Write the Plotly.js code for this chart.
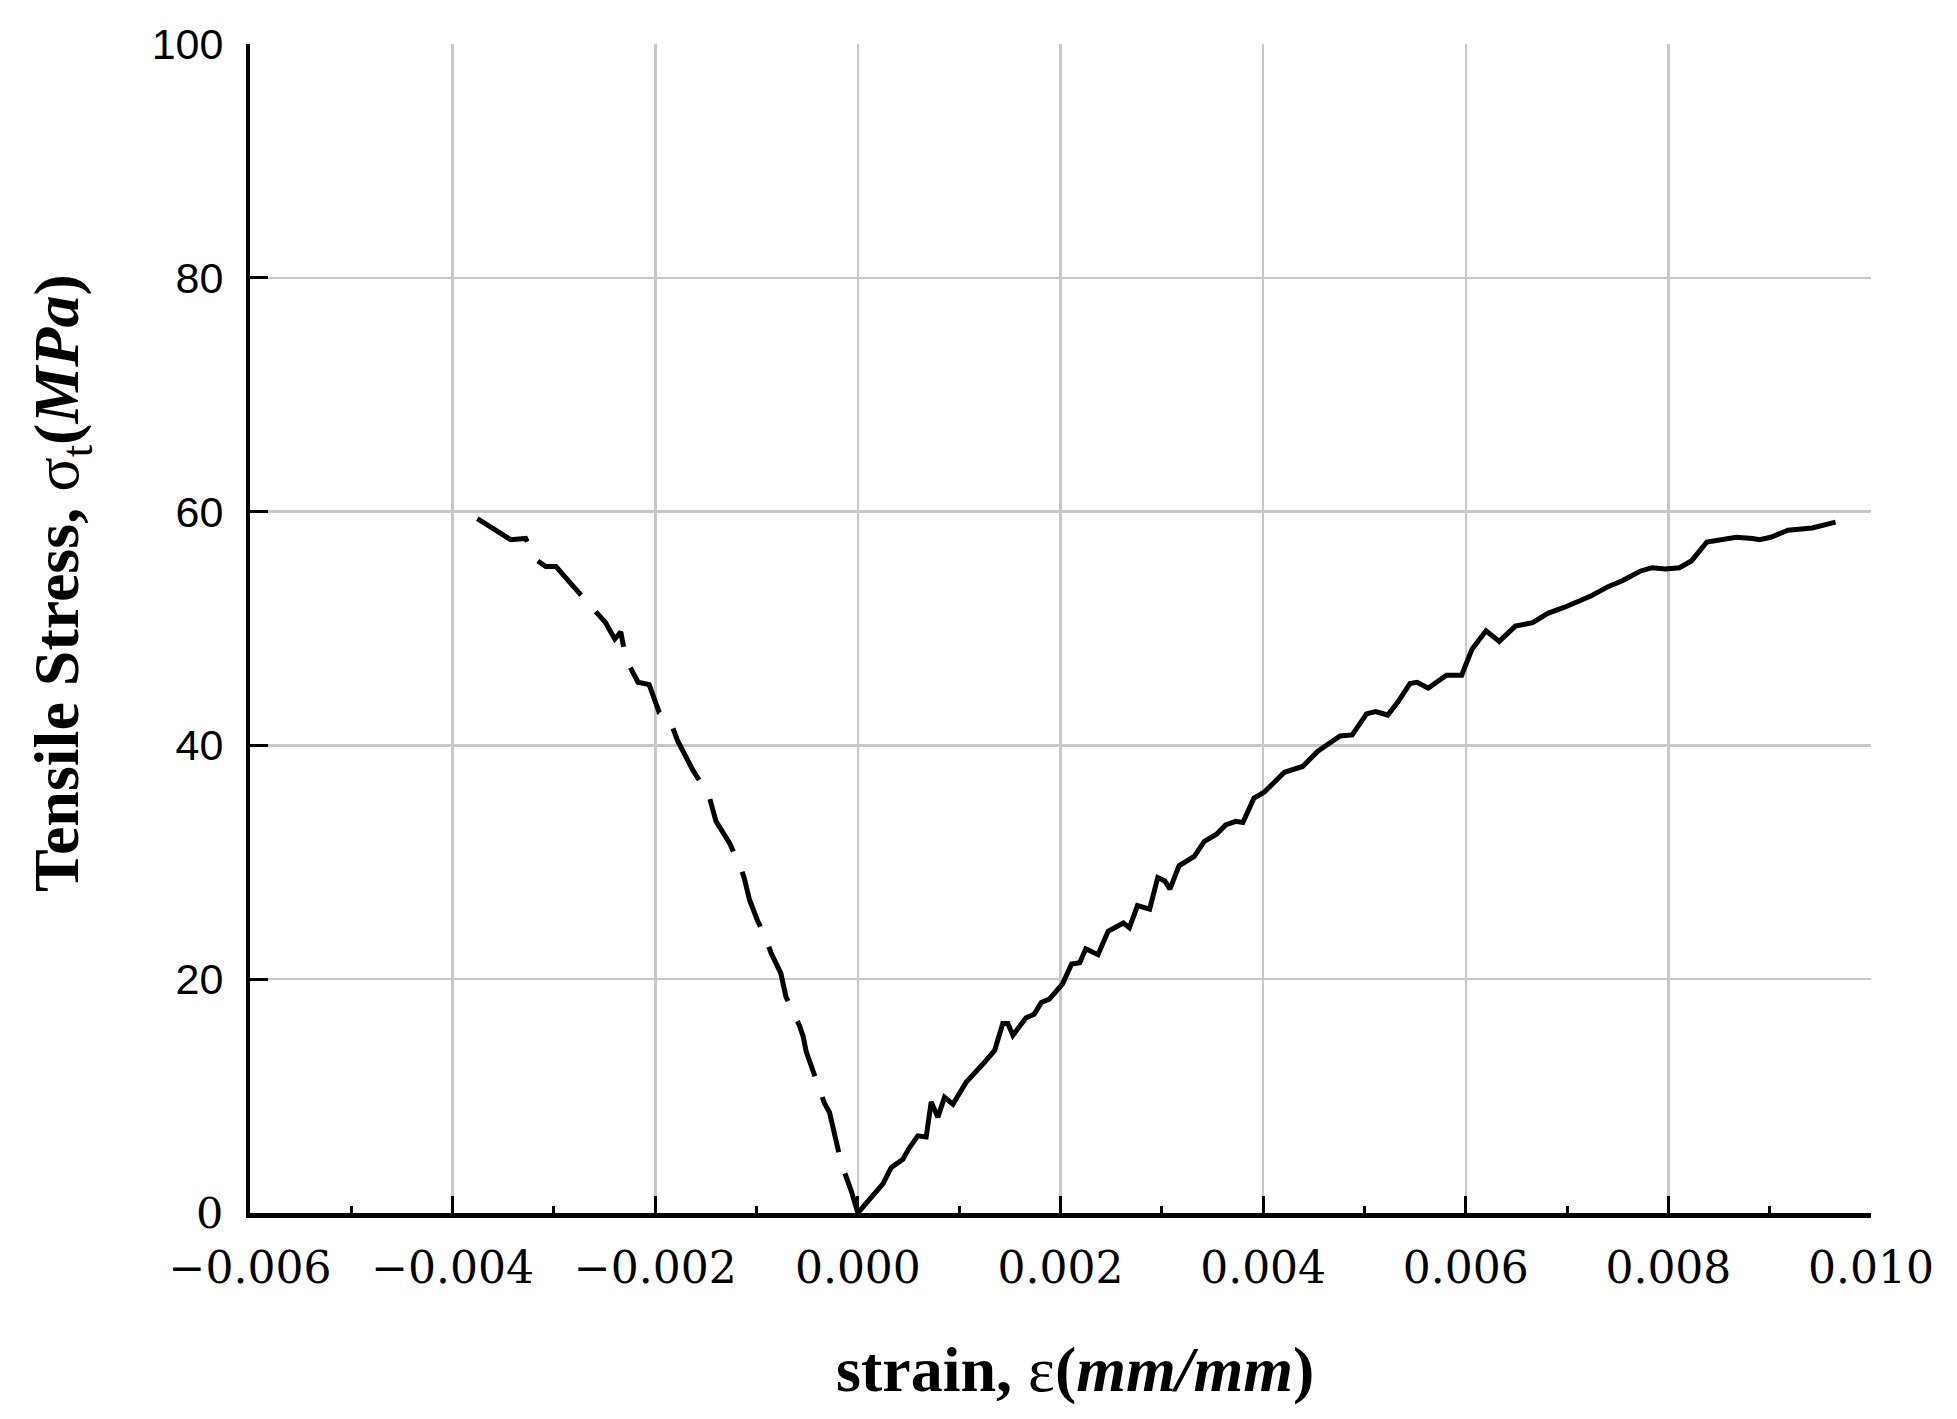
<!DOCTYPE html>
<html>
<head>
<meta charset="utf-8">
<script src="https://cdn.plot.ly/plotly-3.0.1.min.js"></script>
<style>html,body{margin:0;padding:0;background:#fff;}</style>
</head>
<body>
<div id="chart" style="width:1957px;height:1419px;"></div>
<script>
// Compression branch (dashed)
const compStrain = [-0.003756, -0.003608, -0.003427, -0.003279, -0.003163, -0.00308, -0.00298, -0.00288, -0.00267,
  -0.00249, -0.00240, -0.00234, -0.00229, -0.00217, -0.00206, -0.00196, -0.00186, -0.00178, -0.00163, -0.00147,
  -0.00140, -0.00127, -0.00115, -0.00112, -0.00107, -0.00099, -0.00091, -0.00086, -0.00076, -0.00071, -0.00058,
  -0.00054, -0.00051, -0.00033, -0.00028, -0.00021, -0.000165, -0.000066, 0];
const compStress = [59.4, 58.6, 57.6, 57.7, 55.8, 55.3, 55.3, 54.3, 52.2,
  50.5, 49.1, 49.7, 47.4, 45.4, 45.2, 42.8, 42.3, 40.4, 37.9, 35.7,
  33.5, 31.7, 29.4, 28.6, 26.8, 25.0, 23.6, 22.3, 20.5, 18.5, 16.1,
  15.1, 13.8, 9.4, 8.6, 6.2, 4.3, 1.9, 0];

// Tension branch (solid)
const tensStrain = [0, 0.000115, 0.000247, 0.00033, 0.000444, 0.00051, 0.000592, 0.000674, 0.000724, 0.00079,
  0.000855, 0.000938, 0.00107, 0.00123, 0.00135, 0.00143, 0.00148, 0.00153, 0.00166, 0.00174,
  0.00181, 0.00189, 0.00202, 0.00211, 0.00219, 0.00225, 0.00237, 0.00247, 0.00262, 0.00268,
  0.00276, 0.00288, 0.00296, 0.00303, 0.00308, 0.00317, 0.00332, 0.00342, 0.00354, 0.00363,
  0.00373, 0.0038, 0.00391, 0.00401, 0.00421, 0.00439, 0.00454, 0.00476, 0.00488, 0.00502,
  0.00511, 0.00523, 0.00533, 0.00545, 0.00552, 0.00563, 0.00581, 0.00596, 0.00606, 0.0062,
  0.00633, 0.00649, 0.00666, 0.00681, 0.00697, 0.00724, 0.00741, 0.00755, 0.00772, 0.00784,
  0.00797, 0.00811, 0.00823, 0.00838, 0.0085, 0.00867, 0.00883, 0.0089, 0.00901, 0.00918,
  0.00942, 0.00965];
const tensStress = [0, 1.1, 2.5, 3.9, 4.6, 5.6, 6.6, 6.5, 9.5, 8.2,
  9.9, 9.3, 11.2, 12.7, 13.9, 16.2, 16.2, 15.2, 16.7, 17.0,
  18.0, 18.3, 19.6, 21.3, 21.4, 22.6, 22.1, 24.1, 24.8, 24.4,
  26.3, 26.0, 28.7, 28.4, 27.7, 29.7, 30.5, 31.8, 32.4, 33.2,
  33.5, 33.4, 35.5, 36.0, 37.7, 38.2, 39.5, 40.8, 40.9, 42.7,
  42.9, 42.6, 43.7, 45.3, 45.4, 44.9, 46.0, 46.0, 48.2, 49.8,
  48.9, 50.2, 50.5, 51.3, 51.8, 52.8, 53.6, 54.1, 54.9, 55.2,
  55.1, 55.2, 55.8, 57.4, 57.6, 57.8, 57.7, 57.6, 57.8, 58.4,
  58.6, 59.1];

// Tick labels
const xTickVals = [-0.006, -0.004, -0.002, 0, 0.002, 0.004, 0.006, 0.008, 0.010];
const xTickLabels = ['\u22120.006', '\u22120.004', '\u22120.002', '0.000', '0.002', '0.004', '0.006', '0.008', '0.010'];
const yTickVals = [0, 20, 40, 60, 80, 100];
const yTickLabels = ['<span style="font-family:DejaVu Serif">0</span>', '20', '40', '60', '80', '100'];

const xTitle = 'strain, <span style="font-weight:normal">\u03b5</span>(<i>mm/mm</i>)';
const yTitle = 'Tensile Stress, <span style="font-weight:normal">\u03c3<sub>t</sub></span>(<i>MPa</i>)';

const titleFont = {family: 'Liberation Serif', size: 64, weight: 'bold', color: '#000'};

const traces = [
  {x: compStrain, y: compStress, type: 'scatter', mode: 'lines',
   line: {color: '#000', width: 5, dash: '58px,22px'}, hoverinfo: 'skip'},
  {x: tensStrain, y: tensStress, type: 'scatter', mode: 'lines',
   line: {color: '#000', width: 5}, hoverinfo: 'skip'}
];

const layout = {
  width: 1957, height: 1419,
  margin: {l: 250, r: 86, t: 44, b: 206},
  paper_bgcolor: '#fff', plot_bgcolor: '#fff',
  showlegend: false,
  xaxis: {
    range: [-0.006, 0.010], autorange: false,
    tickmode: 'array', tickvals: xTickVals, ticktext: xTickLabels,
    showgrid: true, gridcolor: '#c8c8c8', gridwidth: 2.5,
    zeroline: false,
    showline: true, linecolor: '#000', linewidth: 5,
    ticks: 'inside', ticklen: 17, tickwidth: 3, tickcolor: '#000',
    minor: {tick0: 0, dtick: 0.001, ticks: 'inside', ticklen: 7, tickwidth: 3, tickcolor: '#000', showgrid: false},
    tickfont: {family: 'DejaVu Serif', size: 44, color: '#000'},
    ticklabelstandoff: 12,
    automargin: false
  },
  yaxis: {
    range: [0, 100], autorange: false,
    tickmode: 'array', tickvals: yTickVals, ticktext: yTickLabels,
    showgrid: true, gridcolor: '#c8c8c8', gridwidth: 2.5,
    zeroline: false,
    showline: true, linecolor: '#000', linewidth: 4,
    ticks: 'inside', ticklen: 18, tickwidth: 3, tickcolor: '#000',
    tickfont: {family: 'Liberation Sans', size: 43, color: '#000'},
    ticklabelstandoff: 14,
    automargin: false
  },
  annotations: [
    {text: xTitle, xref: 'paper', yref: 'paper', x: 0.509, y: -0.134,
     xanchor: 'center', yanchor: 'middle', showarrow: false, font: titleFont},
    {text: yTitle, xref: 'paper', yref: 'paper', x: -0.1166, y: 0.539, textangle: -90,
     xanchor: 'center', yanchor: 'middle', showarrow: false, font: titleFont}
  ]
};

Plotly.newPlot('chart', traces, layout, {staticPlot: true, displayModeBar: false});
</script>
</body>
</html>
